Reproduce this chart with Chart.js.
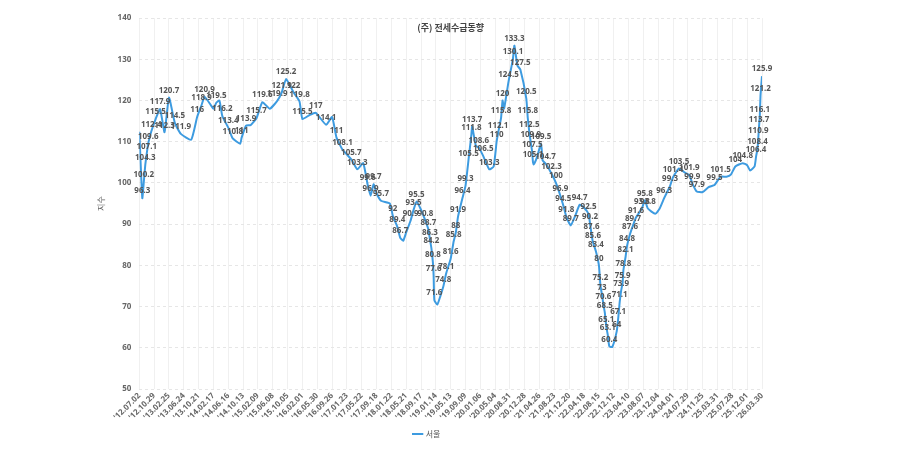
<!DOCTYPE html>
<html>
<head>
<meta charset="utf-8">
<script src="https://cdn.jsdelivr.net/npm/chart.js@4/dist/chart.umd.min.js"></script>
<style>
  body { margin: 0; background: #fff; }
  #wrap { width: 900px; height: 450px; }
</style>
</head>
<body>
<div id="wrap"><canvas id="jeonseChart"></canvas></div>
<script>
// tick labels (one per axis step)
const tickLabels = ["'12.07.02","'12.10.29","'13.02.25","'13.06.24","'13.10.21","'14.02.17","'14.06.16","'14.10.13",
  "'15.02.09","'15.06.08","'15.10.05","'16.02.01","'16.05.30","'16.09.26","'17.01.23","'17.05.22","'17.09.18",
  "'18.01.22","'18.05.21","'18.09.17","'19.01.14","'19.05.13","'19.09.09","'20.01.06","'20.05.04","'20.08.31",
  "'20.12.28","'21.04.26","'21.08.23","'21.12.20","'22.04.18","'22.08.15","'22.12.12","'23.04.10","'23.08.07",
  "'23.12.04","'24.04.01","'24.07.29","'24.11.25","'25.03.31","'25.07.28","'25.12.01","'26.03.30"];

// point position in tick steps, value, and whether a value label is shown
const positions = [0, 0.2, 0.3, 0.4, 0.5, 0.6, 0.8, 1.1, 1.4, 1.7, 2.0, 2.4, 2.8, 3.5, 3.9, 4.2, 4.4, 4.8, 5.0, 5.2, 5.4, 5.6, 6.0, 6.3, 6.8,
  6.9, 7.2, 7.5, 7.9, 8.3, 8.8, 9.3, 9.6, 9.9, 10.4, 10.8, 11.0, 11.5, 11.9, 12.6, 13.0, 13.3, 13.7, 14.3, 14.7, 15.1, 15.4, 15.6, 15.8,
  16.0, 16.3, 16.9, 17.1, 17.4, 17.6, 17.8, 18.0, 18.3, 18.5, 18.7, 19.0, 19.3, 19.5, 19.6, 19.7, 19.8, 19.85, 19.9, 20.1, 20.3, 20.5,
  20.7, 21.0, 21.2, 21.35, 21.5, 21.8, 22.0, 22.2, 22.4, 22.45, 22.7, 22.9, 23.2, 23.6, 23.9, 24.1, 24.2, 24.4, 24.5, 24.6, 24.9, 25.2,
  25.3, 25.5, 25.7, 26.1, 26.2, 26.3, 26.4, 26.5, 26.55, 26.6, 26.8, 27.1, 27.2, 27.4, 27.8, 28.1, 28.4, 28.6, 28.8, 29.1, 29.4, 29.7,
  30.0, 30.3, 30.4, 30.5, 30.6, 30.8, 31.0, 31.1, 31.2, 31.3, 31.4, 31.5, 31.6, 31.7, 31.9, 32.2, 32.3, 32.4, 32.5, 32.6, 32.65, 32.8,
  32.9, 33.1, 33.3, 33.5, 33.9, 34.1, 34.3, 34.8, 35.1, 35.4, 35.8, 36.0, 36.4, 36.8, 37.1, 37.3, 37.6, 38.0, 38.4, 38.8, 39.2, 39.6,
  39.9, 40.2, 40.7, 41.0, 41.2, 41.5, 41.6, 41.7, 41.75, 41.8, 41.85, 41.9, 42.0];
const values = [112.4, 96.3, 100.2, 104.3, 107.1, 109.6, 112.4, 115.5, 117.9, 112.3, 120.7, 114.5, 111.9, 110.5, 116, 118.9, 120.9, 119, 118, 119.5, 120, 116.2, 113.4, 110.8, 109.5,
  111, 113.9, 114, 115.7, 119.6, 118, 119.9, 121.9, 125.2, 122, 119.8, 115.5, 116.5, 117, 114.1, 116, 111, 108.1, 105.7, 103.3, 104.8, 99.6, 96.9, 99.7,
  97.5, 95.7, 95, 92, 89.4, 86.7, 86, 88, 90.9, 93.5, 95.5, 93.5, 90.8, 88.7, 86.3, 84.2, 80.8, 77.6, 71.6, 70.5, 72.5, 74.8,
  78.1, 81.6, 85.8, 88, 91.9, 96.4, 99.3, 105.5, 111.8, 113.7, 109, 108.6, 106.5, 103.3, 104, 110, 112.1, 115.8, 120, 118, 124.5, 130.1,
  133.3, 128.5, 127.5, 120.5, 115.8, 112.5, 109.9, 107.5, 105.1, 104.5, 106, 109.5, 105.5, 104.7, 102.3, 100, 96.9, 94.5, 91.8, 89.7, 92, 94.7,
  94, 92.5, 90.2, 87.6, 85.6, 83.4, 80, 75.2, 73, 70.6, 68.5, 65.1, 63.1, 60.4, 60.2, 64, 67.1, 71.1, 73.9, 75.9, 78.8, 82.1,
  84.8, 87.6, 89.7, 91.6, 93.8, 95.8, 93.8, 92.5, 93.8, 96.3, 99.3, 101.4, 103.5, 102.5, 101.9, 99.9, 97.9, 97.8, 99, 99.5, 101.5, 101.5,
  102, 104, 104.8, 104.3, 103, 104, 106.4, 108.4, 110.9, 113.7, 116.1, 121.2, 125.9];
const shown = [0, 1, 1, 1, 1, 1, 1, 1, 1, 1, 1, 1, 1, 0, 1, 1, 1, 0, 0, 1, 0, 1, 1, 1, 0,
  1, 1, 0, 1, 1, 0, 1, 1, 1, 1, 1, 1, 0, 1, 1, 0, 1, 1, 1, 1, 0, 1, 1, 1,
  0, 1, 0, 1, 1, 1, 0, 0, 1, 1, 1, 0, 1, 1, 1, 1, 1, 1, 1, 0, 0, 1,
  1, 1, 1, 1, 1, 1, 1, 1, 1, 1, 0, 1, 1, 1, 0, 1, 1, 1, 1, 0, 1, 1,
  1, 0, 1, 1, 1, 1, 1, 1, 1, 0, 0, 1, 0, 1, 1, 1, 1, 1, 1, 1, 0, 1,
  0, 1, 1, 1, 1, 1, 1, 1, 1, 1, 1, 1, 1, 1, 0, 1, 1, 1, 1, 1, 1, 1,
  1, 1, 1, 1, 1, 1, 1, 0, 0, 1, 1, 1, 1, 0, 1, 1, 1, 0, 0, 1, 1, 0,
  0, 1, 1, 0, 0, 0, 1, 1, 1, 1, 1, 1, 1];
const yTicks = { min: 50, max: 140, step: 10 };

const points = positions.map((p, i) => ({ x: p, y: values[i] }));

// value labels above the line + title inside the plot area
const pointLabelPlugin = {
  id: 'pointLabels',
  afterDatasetsDraw(chart) {
    const ctx = chart.ctx;
    const meta = chart.getDatasetMeta(0);
    ctx.save();
    ctx.font = 'bold 8px "Noto Sans", sans-serif';
    ctx.fillStyle = '#555';
    ctx.textAlign = 'center';
    ctx.textBaseline = 'bottom';
    meta.data.forEach((el, i) => {
      if (shown[i]) ctx.fillText(String(values[i]), el.x, el.y - 3);
    });
    const area = chart.chartArea;
    ctx.font = 'bold 9px "Noto Sans CJK KR", sans-serif';
    ctx.fillStyle = '#444';
    ctx.textBaseline = 'middle';
    ctx.fillText('(주) 전세수급동향', (area.left + area.right) / 2, 28);
    ctx.restore();
  }
};

new Chart(document.getElementById('jeonseChart'), {
  type: 'line',
  data: {
    datasets: [{
      label: '서울',
      data: points,
      borderColor: '#3d9be0',
      backgroundColor: '#3d9be0',
      borderWidth: 2,
      pointRadius: 0,
      tension: 0.15
    }]
  },
  options: {
    responsive: true,
    maintainAspectRatio: false,
    animation: false,
    layout: { padding: { left: 92, right: 138, top: 18, bottom: 2 } },
    scales: {
      x: {
        type: 'linear',
        min: 0,
        max: tickLabels.length - 1,
        afterBuildTicks(axis) {
          axis.ticks = tickLabels.map((_, i) => ({ value: i }));
        },
        ticks: {
          autoSkip: false,
          maxRotation: 45,
          minRotation: 45,
          padding: 2,
          color: '#666',
          font: { size: 8, weight: 'bold', family: '"Noto Sans", sans-serif' },
          callback: (v) => tickLabels[v]
        },
        grid: { color: '#f0f0f0', drawTicks: false },
        border: { display: false }
      },
      y: {
        min: yTicks.min,
        max: yTicks.max,
        ticks: {
          stepSize: yTicks.step,
          color: '#666',
          font: { size: 8, weight: 'bold', family: '"Noto Sans", sans-serif' },
          padding: 8
        },
        title: {
          display: true,
          text: '지수',
          color: '#666',
          font: { size: 8, family: '"Noto Sans CJK KR", sans-serif' }
        },
        grid: { color: '#e6e6e6', drawTicks: false },
        border: { display: false, dash: [3, 3] }
      }
    },
    plugins: {
      legend: {
        position: 'bottom',
        labels: {
          usePointStyle: true,
          pointStyle: 'line',
          boxWidth: 12,
          padding: 6,
          color: '#555',
          font: { size: 8, family: '"Noto Sans CJK KR", sans-serif' }
        }
      },
      tooltip: { enabled: false }
    }
  },
  plugins: [pointLabelPlugin]
});
</script>
</body>
</html>
